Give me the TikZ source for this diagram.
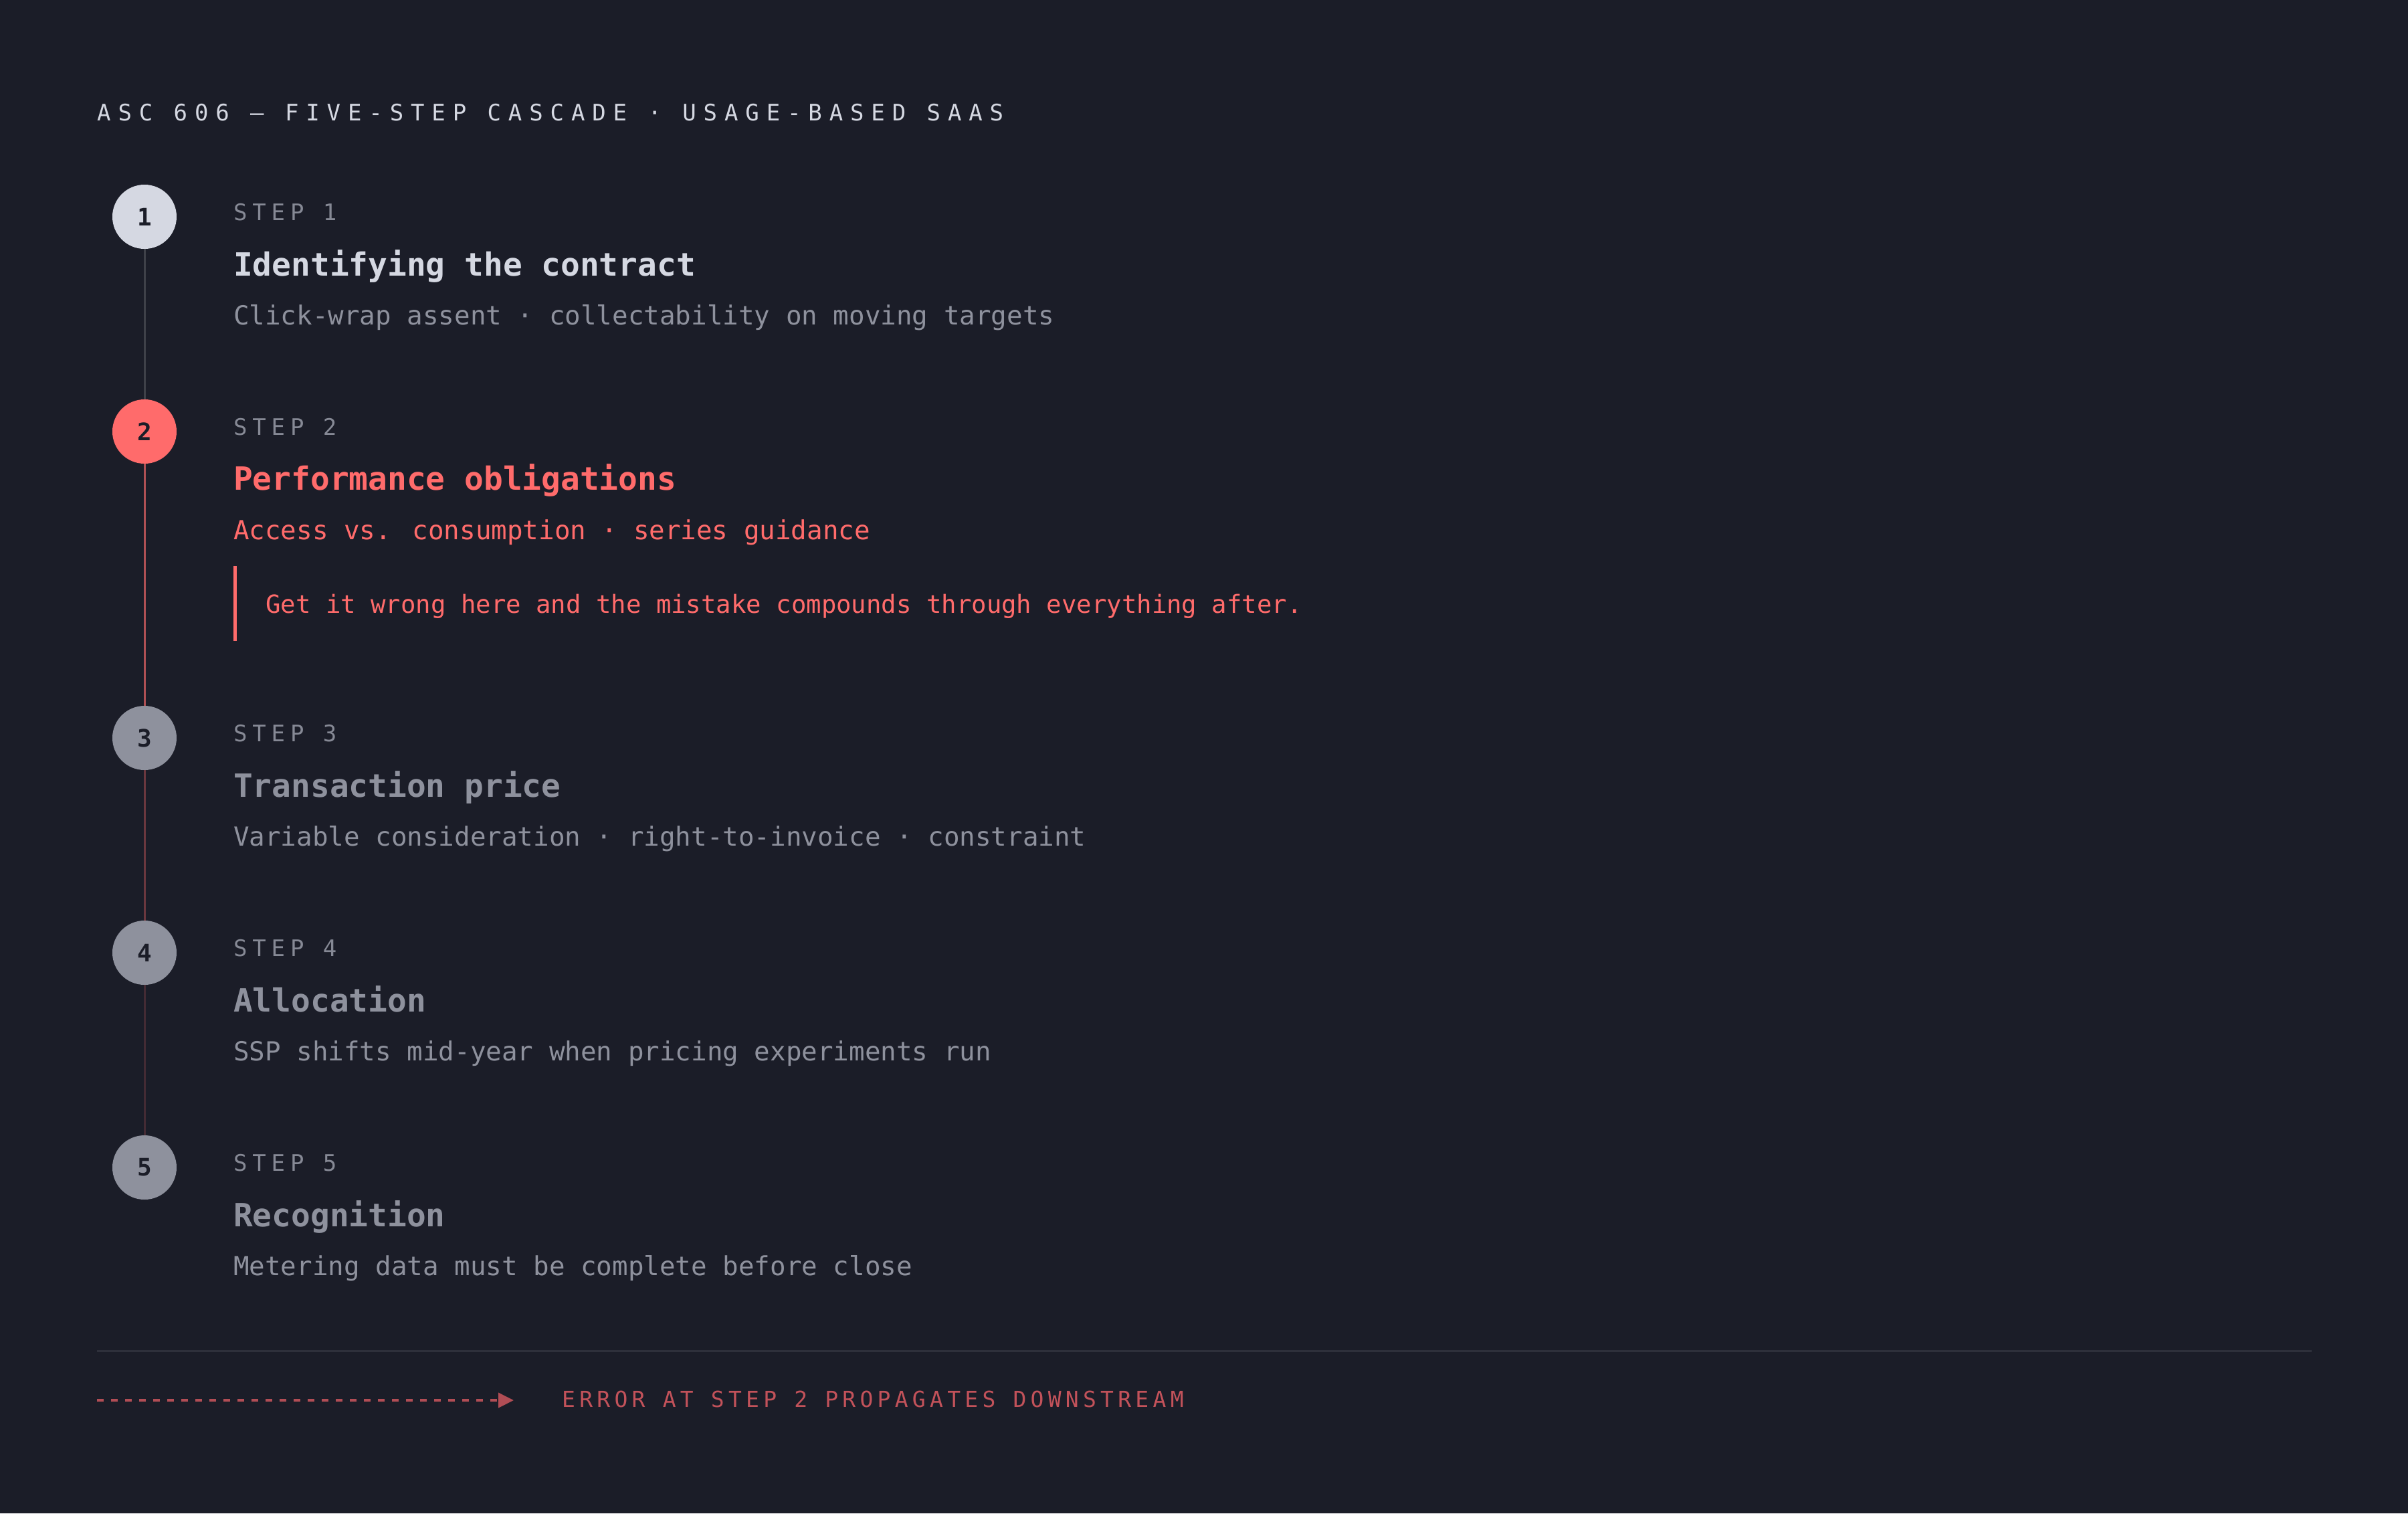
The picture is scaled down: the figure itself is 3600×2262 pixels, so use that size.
\documentclass[tikz,border=0pt]{standalone}
\usepackage{fontspec}
\usepackage{tikz}
\usetikzlibrary{arrows.meta,positioning}

\newfontfamily\mono{DejaVu Sans Mono}
\newfontfamily\headmono[LetterSpace=32]{DejaVu Sans Mono}
\newfontfamily\stepmono[LetterSpace=23]{DejaVu Sans Mono}
\newfontfamily\footmono[LetterSpace=19]{DejaVu Sans Mono}

\definecolor{bg}{HTML}{1B1D28}
\definecolor{ink}{HTML}{D5D8E2}
\definecolor{muted}{HTML}{8E919D}
\definecolor{steplbl}{HTML}{868995}
\definecolor{hot}{HTML}{FF6B6B}
\definecolor{errred}{HTML}{C2525A}
\definecolor{rule}{HTML}{2E303B}

\tikzset{
  dot/.style={circle,minimum size=96pt,inner sep=0pt,text=bg,
    font=\mono\bfseries\fontsize{36}{40}\selectfont},
  steptag/.style={anchor=base west,inner sep=0pt,text=steplbl,
    font=\stepmono\fontsize{34}{40}\selectfont},
  heading/.style={anchor=base west,inner sep=0pt,
    font=\mono\bfseries\fontsize{47.8}{56}\selectfont},
  detail/.style={anchor=base west,inner sep=0pt,
    font=\mono\fontsize{39.2}{46}\selectfont},
  spine/.style={line width=3pt}
}

\begin{document}
\begin{tikzpicture}[x=1pt,y=-1pt]
  \fill[bg] (0,0) rectangle (3600,2262);
  \useasboundingbox (0,0) rectangle (3600,2262);

  \node[anchor=base west,inner sep=0pt,text=ink,font=\headmono\fontsize{34}{40}\selectfont]
    (title) at (145,180) {ASC 606 — FIVE-STEP CASCADE · USAGE-BASED SAAS};

  % step markers
  \node[dot,fill=ink]  (c1) at (216,324)  {1};
  \node[dot,fill=hot]  (c2) at (216,645)  {2};
  \node[dot,fill=muted] (c3) at (216,1103) {3};
  \node[dot,fill=muted] (c4) at (216,1424) {4};
  \node[dot,fill=muted] (c5) at (216,1745) {5};
  \draw[spine,draw=black!50!ink!45!bg]  (c1) -- (c2);
  \draw[spine,draw=hot!65!bg]          (c2) -- (c3);
  \draw[spine,draw=hot!35!bg]          (c3) -- (c4);
  \draw[spine,draw=hot!18!bg]          (c4) -- (c5);

  % step 1
  \node[steptag] (s1) at (349,329) {STEP 1};
  \node[heading,text=ink]   (h1) at (349,412) {Identifying the contract};
  \node[detail,text=muted]  (d1) at (349,485) {Click-wrap assent · collectability on moving targets};

  % step 2
  \node[steptag] (s2) at (349,650) {STEP 2};
  \node[heading,text=hot]   (h2) at (349,732) {Performance obligations};
  \node[detail,text=hot]    (d2) at (349,806) {Access vs. consumption · series guidance};
  \draw[hot,line width=5pt] (351,846) -- (351,958);
  \node[anchor=base west,inner sep=0pt,text=hot,font=\mono\fontsize{37.3}{44}\selectfont]
    (warn) at (397,916) {Get it wrong here and the mistake compounds through everything after.};

  % step 3
  \node[steptag] (s3) at (349,1108) {STEP 3};
  \node[heading,text=muted] (h3) at (349,1191) {Transaction price};
  \node[detail,text=muted]  (d3) at (349,1264) {Variable consideration · right-to-invoice · constraint};

  % step 4
  \node[steptag] (s4) at (349,1429) {STEP 4};
  \node[heading,text=muted] (h4) at (349,1512) {Allocation};
  \node[detail,text=muted]  (d4) at (349,1585) {SSP shifts mid-year when pricing experiments run};

  % step 5
  \node[steptag] (s5) at (349,1750) {STEP 5};
  \node[heading,text=muted] (h5) at (349,1833) {Recognition};
  \node[detail,text=muted]  (d5) at (349,1906) {Metering data must be complete before close};

  % footer
  \draw[rule,line width=3pt] (145,2019) -- (3456,2019);
  \coordinate (a0) at (145,2093);
  \coordinate (a1) at (768,2093);
  \draw[errred!90!bg,line width=4pt,dash pattern=on 10pt off 11pt,
    -{Triangle[length=23pt,width=22pt]}] (a0) -- (a1);
  \node[anchor=base west,inner sep=0pt,text=errred,font=\footmono\fontsize{33}{40}\selectfont]
    (err) at (840,2103) {ERROR AT STEP 2 PROPAGATES DOWNSTREAM};
\end{tikzpicture}
\end{document}
